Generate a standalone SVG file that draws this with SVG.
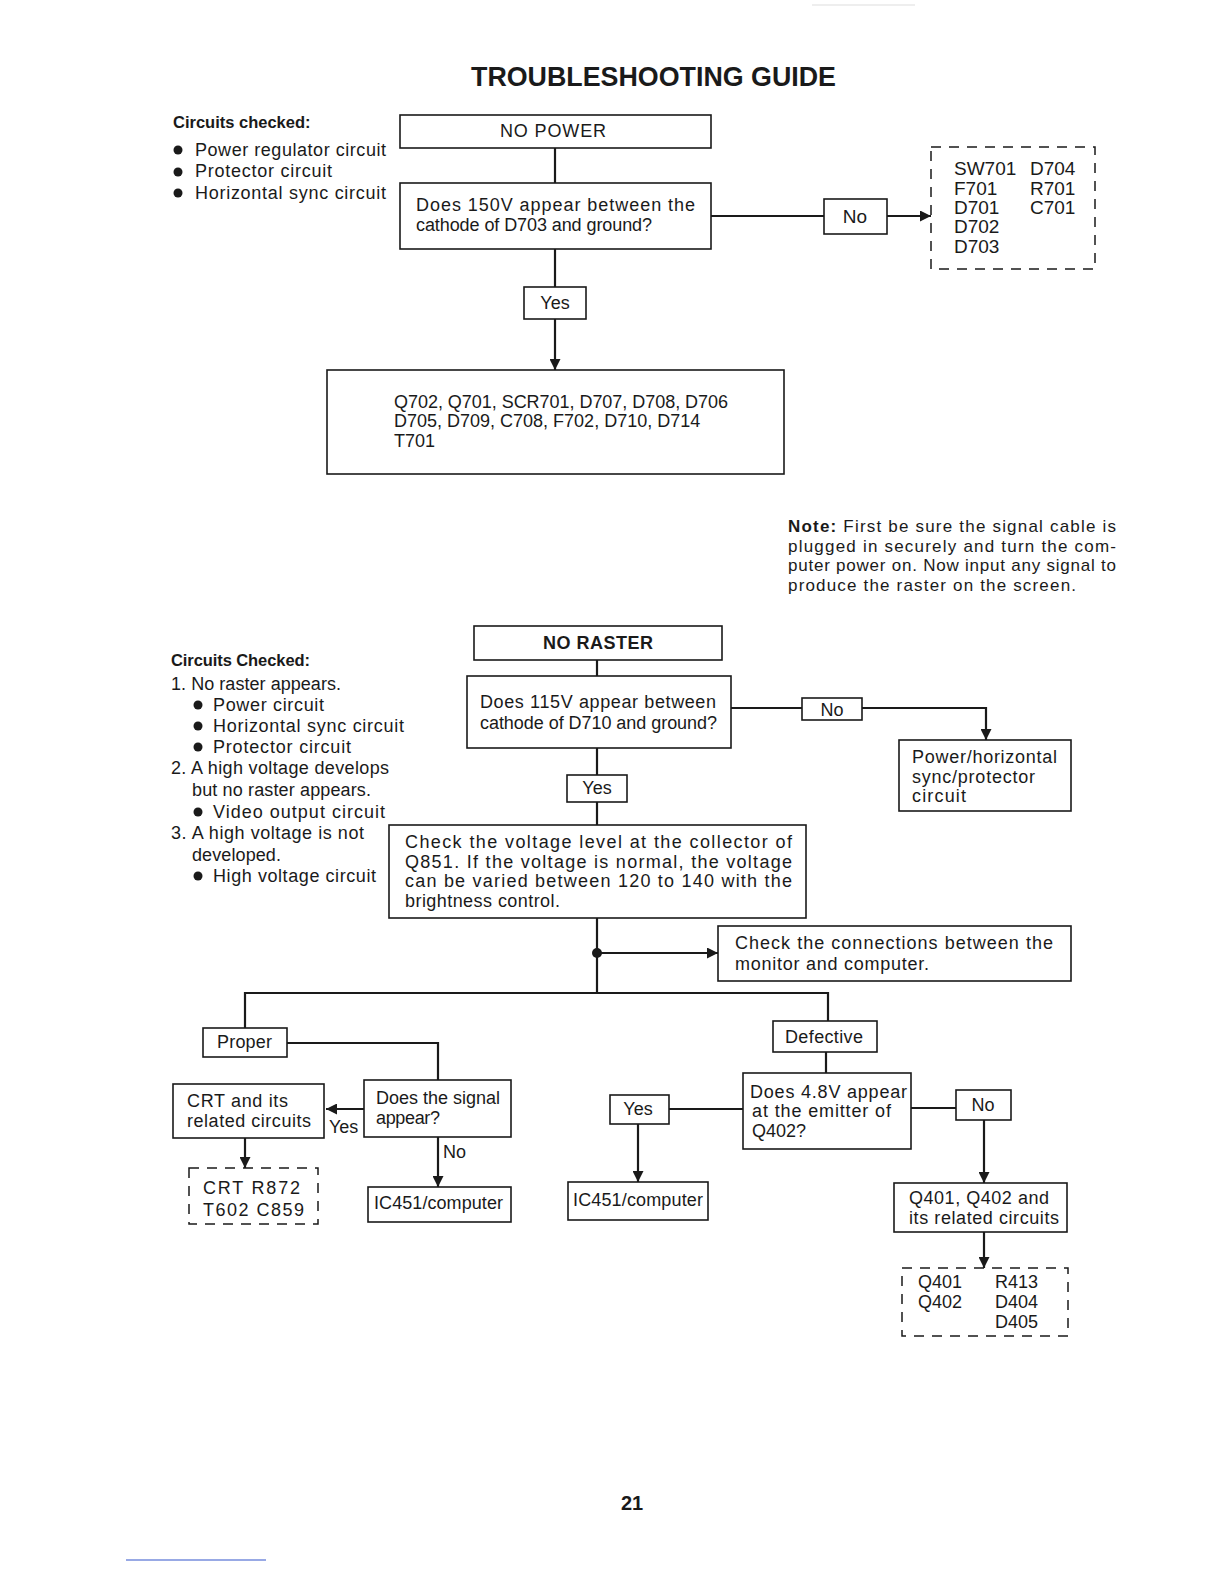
<svg xmlns="http://www.w3.org/2000/svg" width="1224" height="1584" viewBox="0 0 1224 1584">
<defs>
<style>
.t{font-family:"Liberation Sans",Arial,sans-serif;font-size:18px;fill:#1a1a1a}
.b{font-weight:bold}
.c{text-anchor:middle}
.box{fill:#fff;stroke:#1a1a1a;stroke-width:1.6}
.dash{fill:none;stroke:#1a1a1a;stroke-width:1.5;stroke-dasharray:10 8}
.ln{fill:none;stroke:#1a1a1a;stroke-width:2.2}
.dot{fill:#1a1a1a}
</style>
<marker id="ah" viewBox="0 0 10 10" refX="10" refY="5" markerWidth="5" markerHeight="5" orient="auto" markerUnits="strokeWidth">
<path d="M0,0 L10,5 L0,10 z" fill="#1a1a1a"/>
</marker>
</defs>
<rect width="1224" height="1584" fill="#fff"/>
<line x1="812" y1="5" x2="915" y2="5" stroke="#ddd" stroke-width="1"/>
<line x1="126" y1="1560" x2="266" y2="1560" stroke="#3355cc" stroke-width="1.2"/>

<text class="t b" x="471" y="86" style="font-size:27px" textLength="365" lengthAdjust="spacingAndGlyphs">TROUBLESHOOTING GUIDE</text>

<g id="notes-top">
<text class="t b" x="173" y="128" style="font-size:16.5px">Circuits checked:</text>
<circle class="dot" cx="178" cy="150" r="4.5"/>
<text class="t" x="195" y="156" textLength="191" lengthAdjust="spacing">Power regulator circuit</text>
<circle class="dot" cx="178" cy="172" r="4.5"/>
<text class="t" x="195" y="177" textLength="137" lengthAdjust="spacing">Protector circuit</text>
<circle class="dot" cx="178" cy="193" r="4.5"/>
<text class="t" x="195" y="199" textLength="191" lengthAdjust="spacing">Horizontal sync circuit</text>
</g>

<g id="connectors">
<line class="ln" x1="555" y1="148" x2="555" y2="183"/>
<line class="ln" x1="711" y1="216" x2="824" y2="216"/>
<line class="ln" x1="887" y1="216" x2="931" y2="216" marker-end="url(#ah)"/>
<line class="ln" x1="555" y1="249" x2="555" y2="287"/>
<line class="ln" x1="555" y1="319" x2="555" y2="370" marker-end="url(#ah)"/>
<line class="ln" x1="597" y1="660" x2="597" y2="676"/>
<line class="ln" x1="731" y1="708" x2="802" y2="708"/>
<polyline class="ln" points="862,708 986,708 986,740" marker-end="url(#ah)"/>
<line class="ln" x1="597" y1="748" x2="597" y2="775"/>
<line class="ln" x1="597" y1="802" x2="597" y2="825"/>
<line class="ln" x1="597" y1="918" x2="597" y2="993"/>
<circle class="dot" cx="597" cy="953" r="5"/>
<line class="ln" x1="597" y1="953" x2="718" y2="953" marker-end="url(#ah)"/>
<polyline class="ln" points="245,1028 245,993 828,993 828,1021"/>
<polyline class="ln" points="287,1043 438,1043 438,1080"/>
<line class="ln" x1="364" y1="1109" x2="326" y2="1109" marker-end="url(#ah)"/>
<line class="ln" x1="245" y1="1138" x2="245" y2="1168" marker-end="url(#ah)"/>
<line class="ln" x1="438" y1="1137" x2="438" y2="1187" marker-end="url(#ah)"/>
<line class="ln" x1="826" y1="1052" x2="826" y2="1073"/>
<line class="ln" x1="669" y1="1109" x2="743" y2="1109"/>
<line class="ln" x1="638" y1="1124" x2="638" y2="1182" marker-end="url(#ah)"/>
<line class="ln" x1="911" y1="1108" x2="956" y2="1108"/>
<line class="ln" x1="984" y1="1120" x2="984" y2="1183" marker-end="url(#ah)"/>
<line class="ln" x1="984" y1="1232" x2="984" y2="1268" marker-end="url(#ah)"/>
</g>

<g id="no-power">
<rect class="box" x="400" y="115" width="311" height="33"/>
<text class="t" x="500" y="137" textLength="106" lengthAdjust="spacing">NO POWER</text>
</g>
<g id="q-150v">
<rect class="box" x="400" y="183" width="311" height="66"/>
<text class="t" x="416" y="211" textLength="279" lengthAdjust="spacing">Does 150V appear between the</text>
<text class="t" x="416" y="231" textLength="236" lengthAdjust="spacing">cathode of D703 and ground?</text>
</g>
<g id="no-1">
<rect class="box" x="824" y="199" width="63" height="35"/>
<text class="t c" x="855" y="223" style="font-size:19px">No</text>
</g>
<g id="parts-1">
<rect class="dash" x="931" y="147" width="164" height="122"/>
<text class="t" x="954" y="175" style="font-size:19px">SW701</text>
<text class="t" x="954" y="195" style="font-size:19px">F701</text>
<text class="t" x="954" y="214" style="font-size:19px">D701</text>
<text class="t" x="954" y="233" style="font-size:19px">D702</text>
<text class="t" x="954" y="253" style="font-size:19px">D703</text>
<text class="t" x="1030" y="175" style="font-size:19px">D704</text>
<text class="t" x="1030" y="195" style="font-size:19px">R701</text>
<text class="t" x="1030" y="214" style="font-size:19px">C701</text>
</g>
<g id="yes-1">
<rect class="box" x="524" y="287" width="62" height="32"/>
<text class="t c" x="555" y="309">Yes</text>
</g>
<g id="parts-2">
<rect class="box" x="327" y="370" width="457" height="104"/>
<text class="t" x="394" y="408" textLength="334" lengthAdjust="spacing">Q702, Q701, SCR701, D707, D708, D706</text>
<text class="t" x="394" y="427">D705, D709, C708, F702, D710, D714</text>
<text class="t" x="394" y="447">T701</text>
</g>

<g id="note">
<text class="t" x="788" y="532" style="font-size:17px" textLength="328" lengthAdjust="spacing"><tspan class="b">Note:</tspan> First be sure the signal cable is</text>
<text class="t" x="788" y="552" style="font-size:17px" textLength="328" lengthAdjust="spacing">plugged in securely and turn the com-</text>
<text class="t" x="788" y="571" style="font-size:17px" textLength="328" lengthAdjust="spacing">puter power on. Now input any signal to</text>
<text class="t" x="788" y="591" style="font-size:17px" textLength="288" lengthAdjust="spacing">produce the raster on the screen.</text>
</g>

<g id="notes-mid">
<text class="t b" x="171" y="666" style="font-size:16.5px" textLength="139" lengthAdjust="spacing">Circuits Checked:</text>
<text class="t" x="171" y="690" textLength="170" lengthAdjust="spacing">1. No raster appears.</text>
<circle class="dot" cx="198" cy="705" r="4.5"/>
<text class="t" x="213" y="711" textLength="111" lengthAdjust="spacing">Power circuit</text>
<circle class="dot" cx="198" cy="726" r="4.5"/>
<text class="t" x="213" y="732" textLength="191" lengthAdjust="spacing">Horizontal sync circuit</text>
<circle class="dot" cx="198" cy="747" r="4.5"/>
<text class="t" x="213" y="753" textLength="138" lengthAdjust="spacing">Protector circuit</text>
<text class="t" x="171" y="774" textLength="218" lengthAdjust="spacing">2. A high voltage develops</text>
<text class="t" x="192" y="796" textLength="179" lengthAdjust="spacing">but no raster appears.</text>
<circle class="dot" cx="198" cy="812" r="4.5"/>
<text class="t" x="213" y="818" textLength="172" lengthAdjust="spacing">Video output circuit</text>
<text class="t" x="171" y="839" textLength="193" lengthAdjust="spacing">3. A high voltage is not</text>
<text class="t" x="192" y="861" textLength="89" lengthAdjust="spacing">developed.</text>
<circle class="dot" cx="198" cy="876" r="4.5"/>
<text class="t" x="213" y="882" textLength="163" lengthAdjust="spacing">High voltage circuit</text>
</g>

<g id="no-raster">
<rect class="box" x="474" y="626" width="248" height="34"/>
<text class="t b" x="543" y="649" textLength="110" lengthAdjust="spacing">NO RASTER</text>
</g>
<g id="q-115v">
<rect class="box" x="467" y="676" width="264" height="72"/>
<text class="t" x="480" y="708" textLength="236" lengthAdjust="spacing">Does 115V appear between</text>
<text class="t" x="480" y="729" textLength="237" lengthAdjust="spacing">cathode of D710 and ground?</text>
</g>
<g id="no-2">
<rect class="box" x="802" y="698" width="60" height="22"/>
<text class="t c" x="832" y="716">No</text>
</g>
<g id="power-horiz">
<rect class="box" x="899" y="740" width="172" height="71"/>
<text class="t" x="912" y="763" textLength="145" lengthAdjust="spacing">Power/horizontal</text>
<text class="t" x="912" y="783" textLength="123" lengthAdjust="spacing">sync/protector</text>
<text class="t" x="912" y="802" textLength="54" lengthAdjust="spacing">circuit</text>
</g>
<g id="yes-2">
<rect class="box" x="567" y="775" width="60" height="27"/>
<text class="t c" x="597" y="794">Yes</text>
</g>
<g id="check-q851">
<rect class="box" x="389" y="825" width="417" height="93"/>
<text class="t" x="405" y="848" textLength="387" lengthAdjust="spacing">Check the voltage level at the collector of</text>
<text class="t" x="405" y="868" textLength="387" lengthAdjust="spacing">Q851.  If the voltage is normal, the voltage</text>
<text class="t" x="405" y="887" textLength="387" lengthAdjust="spacing">can be varied between 120 to 140 with the</text>
<text class="t" x="405" y="907" textLength="155" lengthAdjust="spacing">brightness control.</text>
</g>
<g id="check-conn">
<rect class="box" x="718" y="926" width="353" height="55"/>
<text class="t" x="735" y="949" textLength="318" lengthAdjust="spacing">Check the connections between the</text>
<text class="t" x="735" y="970" textLength="194" lengthAdjust="spacing">monitor and computer.</text>
</g>

<g id="proper">
<rect class="box" x="203" y="1028" width="84" height="29"/>
<text class="t" x="217" y="1048" textLength="55" lengthAdjust="spacing">Proper</text>
</g>
<g id="q-signal">
<rect class="box" x="364" y="1080" width="147" height="57"/>
<text class="t" x="376" y="1104" textLength="124" lengthAdjust="spacing">Does the signal</text>
<text class="t" x="376" y="1124" textLength="64" lengthAdjust="spacing">appear?</text>
</g>
<g id="crt">
<rect class="box" x="173" y="1084" width="151" height="54"/>
<text class="t" x="187" y="1107" textLength="101" lengthAdjust="spacing">CRT and its</text>
<text class="t" x="187" y="1127" textLength="124" lengthAdjust="spacing">related circuits</text>
</g>
<text class="t" x="329" y="1133">Yes</text>
<text class="t" x="443" y="1158">No</text>
<g id="parts-crt">
<rect class="dash" x="189" y="1168" width="129" height="56"/>
<text class="t" x="203" y="1194" textLength="97" lengthAdjust="spacing">CRT  R872</text>
<text class="t" x="203" y="1216" textLength="101" lengthAdjust="spacing">T602  C859</text>
</g>
<g id="ic451-a">
<rect class="box" x="368" y="1187" width="143" height="35"/>
<text class="t" x="374" y="1209" textLength="129" lengthAdjust="spacing">IC451/computer</text>
</g>

<g id="defective">
<rect class="box" x="773" y="1021" width="104" height="31"/>
<text class="t" x="785" y="1043" textLength="78" lengthAdjust="spacing">Defective</text>
</g>
<g id="q-48v">
<rect class="box" x="743" y="1073" width="168" height="76"/>
<text class="t" x="750" y="1098" textLength="157" lengthAdjust="spacing">Does 4.8V appear</text>
<text class="t" x="752" y="1117" textLength="139" lengthAdjust="spacing">at the emitter of</text>
<text class="t" x="752" y="1137" textLength="54" lengthAdjust="spacing">Q402?</text>
</g>
<g id="yes-3">
<rect class="box" x="610" y="1095" width="59" height="29"/>
<text class="t c" x="638" y="1115">Yes</text>
</g>
<g id="ic451-b">
<rect class="box" x="568" y="1182" width="140" height="38"/>
<text class="t" x="573" y="1206" textLength="130" lengthAdjust="spacing">IC451/computer</text>
</g>
<g id="no-3">
<rect class="box" x="956" y="1090" width="55" height="30"/>
<text class="t c" x="983" y="1111">No</text>
</g>
<g id="q401-box">
<rect class="box" x="894" y="1183" width="173" height="49"/>
<text class="t" x="909" y="1204" textLength="140" lengthAdjust="spacing">Q401, Q402 and</text>
<text class="t" x="909" y="1224" textLength="150" lengthAdjust="spacing">its related circuits</text>
</g>
<g id="parts-q401">
<rect class="dash" x="902" y="1268" width="166" height="68"/>
<text class="t" x="918" y="1288">Q401</text>
<text class="t" x="918" y="1308">Q402</text>
<text class="t" x="995" y="1288">R413</text>
<text class="t" x="995" y="1308">D404</text>
<text class="t" x="995" y="1328">D405</text>
</g>

<text class="t b c" x="632" y="1510" style="font-size:20px">21</text>
</svg>
